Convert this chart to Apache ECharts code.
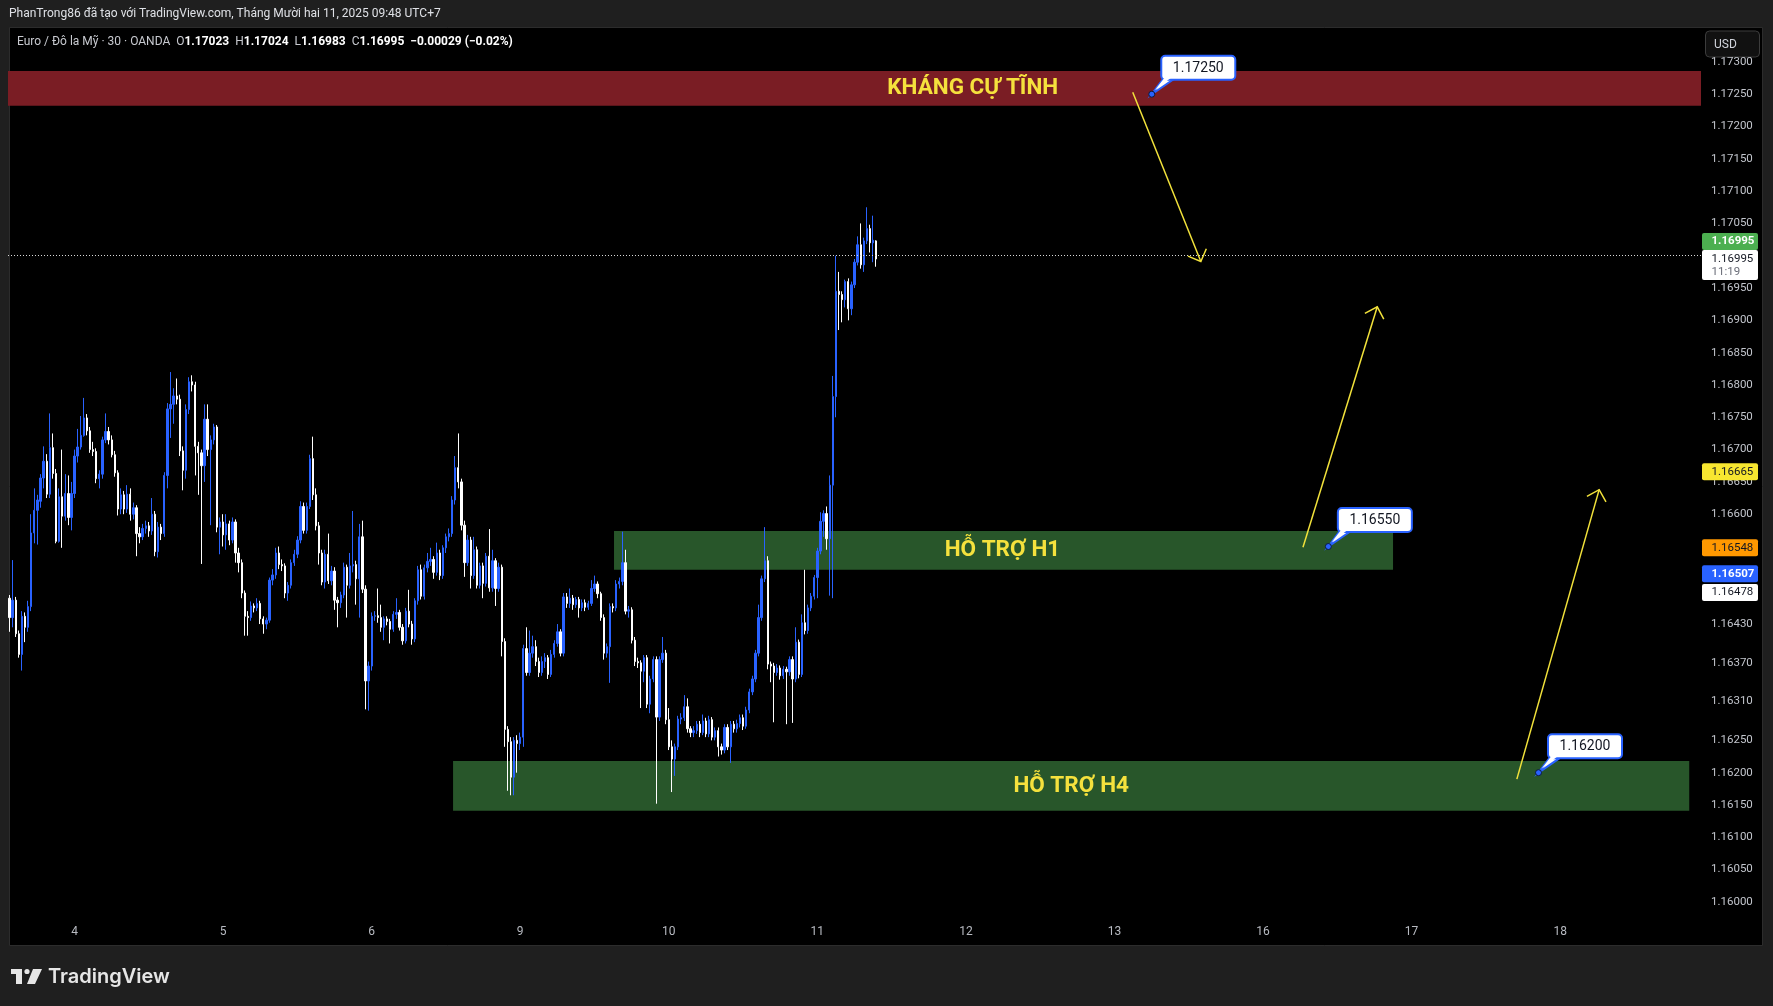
<!DOCTYPE html>
<html>
<head>
<meta charset="utf-8">
<title>Euro / Đô la Mỹ · 30 · OANDA</title>
<script src="https://cdn.jsdelivr.net/npm/echarts@6.0.0/dist/echarts.min.js"></script>
<style>
  html, body { margin: 0; padding: 0; background: #1f1f1f; }
  #chart-container { width: 1773px; height: 1006px; }
</style>
</head>
<body>
<div id="chart-container"></div>
<script>
// candle values are in 0.00001 above BASE
const BASE = 1.16;
const PT = 0.00001;

// [open, close, low, high] - one 30 min bar each, first bar = day 3, 13:30
const candles = [
  [470,440,418,475],[440,467,425,529],[467,415,410,472],[415,383,378,420],[383,442,358,450],
  [442,425,402,448],[425,457,418,466],[457,571,450,600],[571,606,555,640],[606,622,553,630],
  [620,656,610,662],[656,682,640,705],[682,631,625,693],[631,703,625,756],[703,663,655,725],
  [663,558,555,670],[558,627,556,640],[627,597,548,700],[597,632,590,662],[632,595,583,660],
  [595,632,575,650],[632,690,625,700],[690,704,680,732],[704,722,700,752],[722,749,720,780],
  [749,729,722,755],[729,700,695,735],[700,697,690,712],[697,655,648,702],[655,662,640,668],
  [662,715,655,720],[715,728,710,756],[728,715,708,735],[715,692,688,722],[692,664,658,698],
  [664,608,598,668],[608,630,600,640],[630,608,600,636],[608,631,602,645],[631,600,590,640],
  [600,610,592,618],[610,570,535,614],[570,565,555,580],[565,578,560,585],[578,582,570,590],
  [582,574,565,588],[574,600,568,625],[600,542,535,605],[542,580,533,588],[580,570,560,585],
  [570,660,565,665],[660,763,640,772],[763,770,718,820],[770,783,740,795],[783,778,770,810],
  [778,698,690,785],[698,668,637,705],[668,762,655,770],[762,805,755,812],[805,800,790,815],
  [800,705,660,805],[705,695,630,712],[695,675,523,700],[675,747,650,770],[747,700,690,770],
  [700,715,583,722],[715,735,708,740],[735,580,572,738],[580,588,538,595],[588,568,550,600],
  [568,585,545,600],[585,560,552,590],[560,588,555,595],[588,540,525,592],[540,525,510,548],
  [525,478,470,530],[478,442,412,482],[442,440,412,450],[440,458,435,465],[458,455,448,462],
  [455,462,450,470],[462,438,430,466],[438,430,415,442],[430,436,422,440],[436,498,432,502],
  [498,506,490,515],[506,540,500,548],[540,522,515,550],[522,520,512,530],[520,478,470,524],
  [478,490,466,495],[490,525,485,530],[525,538,520,545],[538,560,532,566],[560,612,555,620],
  [612,575,570,618],[575,612,570,618],[612,686,608,692],[686,630,622,720],[630,582,575,640],
  [582,540,522,588],[540,495,490,545],[495,538,485,545],[538,497,492,570],[497,512,490,520],
  [512,467,452,518],[467,463,425,472],[463,475,455,480],[475,518,470,525],[518,490,440,522],
  [490,520,485,540],[520,522,510,605],[522,500,460,528],[500,565,440,585],[565,484,478,590],
  [484,342,298,490],[342,365,296,372],[365,442,358,448],[442,443,435,450],[443,440,432,485],
  [440,425,418,460],[425,438,405,442],[438,434,428,442],[434,422,400,438],[422,445,418,450],
  [445,448,438,470],[448,425,420,452],[425,404,398,430],[404,450,400,455],[450,430,425,483],
  [430,407,398,435],[407,466,402,470],[466,514,460,520],[514,473,468,522],[473,517,468,522],
  [517,527,510,540],[527,530,520,548],[530,510,500,535],[510,540,505,556],[540,505,498,545],
  [505,548,500,552],[548,565,540,570],[565,570,558,578],[570,622,565,628],[622,672,615,690],
  [672,650,640,725],[650,583,575,655],[583,525,503,590],[525,560,520,568],[560,505,485,565],
  [505,545,500,565],[545,490,485,550],[490,520,485,525],[520,493,470,525],[493,535,488,540],
  [535,486,480,577],[486,528,480,545],[528,485,458,532],[485,518,480,525],[518,403,380,522],
  [403,267,240,408],[267,248,172,272],[248,193,165,255],[193,250,165,255],[250,245,200,258],
  [245,255,235,262],[255,392,240,398],[392,355,350,425],[355,385,350,420],[385,395,378,412],
  [395,372,365,405],[372,355,348,378],[355,372,350,380],[372,378,362,385],[378,352,345,382],
  [352,383,348,390],[383,400,378,405],[400,418,395,430],[418,385,380,422],[385,472,380,478],
  [472,462,455,478],[462,470,455,485],[470,460,452,475],[460,468,455,472],[468,455,440,472],
  [455,463,450,468],[463,456,450,468],[456,462,452,466],[462,485,458,498],[485,492,480,505],
  [492,477,470,496],[477,440,435,480],[440,385,375,445],[385,395,378,400],[395,457,339,462],
  [457,455,448,462],[455,492,450,498],[492,496,485,502],[496,525,490,573],[525,450,445,545],
  [450,452,440,458],[452,405,400,456],[405,372,365,410],[372,370,362,378],[370,357,300,374],
  [357,378,340,382],[378,306,300,382],[306,345,292,350],[345,375,340,380],[375,286,152,380],
  [286,375,280,380],[375,385,370,410],[385,282,275,390],[282,240,235,300],[240,221,170,250],
  [221,240,195,245],[240,283,235,288],[283,285,275,292],[285,302,280,320],[302,268,262,315],
  [268,262,255,272],[262,265,255,272],[265,275,260,280],[275,262,255,280],[262,280,258,290],
  [280,260,255,285],[260,282,255,288],[282,255,250,286],[255,265,250,270],[265,240,225,270],
  [240,235,228,245],[235,270,230,275],[270,240,235,275],[240,275,215,280],[275,268,262,280],
  [268,276,262,282],[276,285,270,290],[285,272,266,290],[272,297,268,302],[297,325,292,330],
  [325,345,320,350],[345,385,340,390],[385,440,380,460],[440,500,435,505],[500,528,495,580],
  [528,368,360,535],[368,365,340,372],[365,355,278,370],[355,362,350,368],[362,350,344,366],
  [350,360,345,365],[360,356,275,364],[356,375,350,380],[375,345,277,380],[345,402,340,425],
  [402,352,346,406],[352,432,348,445],[432,420,414,514],[420,455,415,460],[455,473,450,478],
  [473,502,468,506],[502,543,470,548],[543,589,538,603],[589,601,565,606],[601,562,545,612],
  [562,645,474,660],[645,782,470,814],[782,945,750,1000],[945,940,885,975],[940,932,897,945],
  [932,960,920,963],[960,918,900,965],[918,955,908,960],[955,990,950,995],[990,1017,985,1030],
  [1017,986,980,1050],[986,1023,975,1028],[1023,1042,1018,1075],[1042,1020,1005,1048],[1020,1024,990,1062],
  [1023,995,983,1024]
];

// time scale: 48 bars a day, weekends skipped
const leadDay = '3';
const leadFirstSlot = 27;
const dayLabels = ['4', '5', '6', '9', '10', '11', '12', '13', '16', '17', '18'];
const BARS_PER_DAY = 48;
const SLOTS = 547;

const priceTicks = [
  1.173, 1.1725, 1.172, 1.1715, 1.171, 1.1705, 1.17, 1.1695, 1.169, 1.1685, 1.168,
  1.1675, 1.167, 1.1665, 1.166, 1.165, 1.1643, 1.1637, 1.1631, 1.1625, 1.162,
  1.1615, 1.161, 1.1605, 1.16
];

// drawn zones (x in bar units)
const zoneNames = ['KHÁNG CỰ TĨNH', 'HỖ TRỢ H1', 'HỖ TRỢ H4'];
const zoneStart = [-0.5, 195.3, 143.3];
const zoneEnd = [546.5, 447.0, 542.7];
const zoneLow = [1.17232, 1.16514, 1.16141];
const zoneHigh = [1.17286, 1.16574, 1.16218];
const zoneTextAt = [311.2, 320.8, 343.0];

const calloutBar = [369.05, 426.1, 494.0];
const calloutPrice = [1.1725, 1.1655, 1.162];

const arrowStart = [[362.9, 1.17253], [417.9, 1.16549], [487.0, 1.16190]];
const arrowEnd = [[384.9, 1.16991], [441.9, 1.16921], [513.6, 1.16638]];

const tagPrices = [1.16995, 1.16995, 1.16665, 1.16548, 1.16507, 1.16478];
const countdown = '11:19';

const creditLine = 'PhanTrong86 đã tạo với TradingView.com, Tháng Mười hai 11, 2025 09:48 UTC+7';
const symbolName = 'Euro / Đô la Mỹ · 30 · OANDA';

// ---- styles
const UP = '#2962ff';
const DOWN = '#ffffff';
const ZONE_FILL = ['#7a1d24', '#28562a', '#28562a'];
const ZONE_TEXT = '#f5e13d';
const ARROW = '#f2e23b';
const TAG_FILL = ['#4caf50', '#ffffff', '#f7e630', '#ff9800', '#2962ff', '#ffffff'];
const TAG_TEXT = ['#ffffff', '#131722', '#131722', '#131722', '#ffffff', '#131722'];
const TAG_BOLD = [true, false, false, false, true, false];
const TAG_SHIFT = [-17.5, 0, -0.5, 0, -0.5, -0.5];
const FONT = 'Roboto, "Noto Sans", sans-serif';

const X_MIN = -0.5;
const X_MAX = SLOTS - 0.5;

// category names like "4 09:30"
const categories = [];
function slotName(day, s) {
  const h = String(Math.floor(s / 2)).padStart(2, '0');
  return day + ' ' + h + ':' + (s % 2 ? '30' : '00');
}
for (let s = leadFirstSlot; s < BARS_PER_DAY; s++) categories.push(slotName(leadDay, s));
dayLabels.forEach((d) => {
  for (let s = 0; s < BARS_PER_DAY && categories.length < SLOTS; s++) categories.push(slotName(d, s));
});

const toPrice = (v) => +(BASE + v * PT).toFixed(5);
const ohlc = candles.map((c) => [toPrice(c[0]), toPrice(c[1]), toPrice(c[2]), toPrice(c[3])]);

const last = candles[candles.length - 1];
const prev = candles[candles.length - 2];
const lastClose = toPrice(last[1]);
const chg = last[1] - prev[1];
const sign = chg < 0 ? '−' : '+';
const chgText = sign + (Math.abs(chg) * PT).toFixed(5) + ' (' + sign +
  (Math.abs(chg * PT) / toPrice(prev[1]) * 100).toFixed(2) + '%)';
const legendText = '{n|' + symbolName + '}  {n|O}{b|' + toPrice(last[0]).toFixed(5) +
  '}  {n|H}{b|' + toPrice(last[3]).toFixed(5) + '}  {n|L}{b|' + toPrice(last[2]).toFixed(5) +
  '}  {n|C}{b|' + lastClose.toFixed(5) + '}  {b|' + chgText + '}';

const chart = echarts.init(document.getElementById('chart-container'), null, { renderer: 'canvas' });

const option = {
  animation: false,
  backgroundColor: '#1f1f1f',
  grid: { left: 8, right: 72, top: 27, bottom: 86 },
  xAxis: [
    {
      type: 'category',
      data: categories,
      boundaryGap: true,
      axisLine: { show: false },
      axisTick: { show: false },
      splitLine: { show: false },
      axisLabel: {
        interval: (i, v) => v.endsWith(' 00:00'),
        formatter: (v) => v.split(' ')[0],
        color: '#b8bbc2',
        fontSize: 12,
        fontFamily: FONT,
        margin: 6
      }
    },
    { type: 'value', min: X_MIN, max: X_MAX, show: false }
  ],
  yAxis: {
    type: 'value',
    position: 'right',
    min: 1.15972,
    max: 1.17354,
    axisLine: { show: false },
    axisTick: { show: false },
    splitLine: { show: false },
    axisLabel: {
      customValues: priceTicks,
      formatter: (v) => v.toFixed(5),
      color: '#c2c5cc',
      fontSize: 11.5,
      fontFamily: FONT,
      margin: 10
    }
  },
  series: [
    {
      name: 'zones',
      type: 'custom',
      xAxisIndex: 1,
      z: 1,
      silent: true,
      data: zoneNames.map((n, i) => [zoneStart[i], zoneEnd[i], zoneLow[i], zoneHigh[i], zoneTextAt[i]]),
      encode: { x: [0, 1, 4], y: [2, 3] },
      renderItem(params, api) {
        const i = params.dataIndex;
        const a = api.coord([api.value(0), api.value(3)]);
        const b = api.coord([api.value(1), api.value(2)]);
        const t = api.coord([api.value(4), (api.value(2) + api.value(3)) / 2]);
        return {
          type: 'group',
          children: [
            {
              type: 'rect',
              shape: { x: a[0], y: a[1], width: b[0] - a[0], height: b[1] - a[1] },
              style: { fill: ZONE_FILL[i] }
            },
            {
              type: 'text',
              x: t[0],
              y: t[1],
              style: {
                text: zoneNames[i],
                fill: ZONE_TEXT,
                fontSize: 22.5,
                fontWeight: 'bold',
                fontFamily: FONT,
                align: 'center',
                verticalAlign: 'middle'
              }
            }
          ]
        };
      }
    },
    {
      name: 'EURUSD',
      type: 'candlestick',
      xAxisIndex: 0,
      z: 3,
      barWidth: 1.8,
      data: ohlc,
      itemStyle: {
        color: UP,
        color0: DOWN,
        borderColor: UP,
        borderColor0: DOWN,
        borderColorDoji: DOWN,
        borderWidth: 1
      },
      markLine: {
        silent: true,
        symbol: ['none', 'none'],
        label: { show: false },
        lineStyle: { color: '#d8d8d8', type: [1, 2], width: 1 },
        data: [{ yAxis: lastClose }]
      }
    },
    {
      name: 'arrows',
      type: 'custom',
      xAxisIndex: 1,
      z: 4,
      silent: true,
      data: arrowStart.map((s, i) => [s[0], s[1], arrowEnd[i][0], arrowEnd[i][1]]),
      encode: { x: [0, 2], y: [1, 3] },
      renderItem(params, api) {
        const a = api.coord([api.value(0), api.value(1)]);
        const b = api.coord([api.value(2), api.value(3)]);
        const back = Math.atan2(a[1] - b[1], a[0] - b[0]);
        const len = 14;
        const w1 = [b[0] + len * Math.cos(back + Math.PI / 4), b[1] + len * Math.sin(back + Math.PI / 4)];
        const w2 = [b[0] + len * Math.cos(back - Math.PI / 4), b[1] + len * Math.sin(back - Math.PI / 4)];
        return {
          type: 'group',
          children: [
            { type: 'line', shape: { x1: a[0], y1: a[1], x2: b[0], y2: b[1] }, style: { stroke: ARROW, lineWidth: 1.5 } },
            { type: 'polyline', shape: { points: [w1, b, w2] }, style: { stroke: ARROW, lineWidth: 1.5, fill: null } }
          ]
        };
      }
    },
    {
      name: 'callouts',
      type: 'custom',
      xAxisIndex: 1,
      z: 5,
      silent: true,
      data: calloutBar.map((x, i) => [x, calloutPrice[i]]),
      encode: { x: 0, y: 1 },
      renderItem(params, api) {
        const p = api.coord([api.value(0), api.value(1)]);
        const bw = 74, bh = 24;
        const bx = p[0] + 9.5, by = p[1] - 38.5;
        const tail = [[p[0], p[1]], [bx + 2, by + bh - 1], [bx + 13, by + bh - 1]];
        const tailInner = [[p[0] + 3, p[1] - 4], [bx + 4, by + bh - 3], [bx + 11, by + bh - 3]];
        return {
          type: 'group',
          children: [
            { type: 'polygon', shape: { points: tail }, style: { fill: '#fff', stroke: UP, lineWidth: 2 } },
            { type: 'rect', shape: { x: bx, y: by, width: bw, height: bh, r: 4 }, style: { fill: '#fff', stroke: UP, lineWidth: 2 } },
            { type: 'polygon', shape: { points: tailInner }, style: { fill: '#fff' } },
            { type: 'circle', shape: { cx: p[0], cy: p[1], r: 3 }, style: { fill: UP, stroke: '#0b1a40', lineWidth: 1 } },
            {
              type: 'text',
              x: bx + bw / 2,
              y: by + bh / 2 + 0.5,
              style: {
                text: api.value(1).toFixed(5),
                fill: '#131722',
                fontSize: 14,
                fontFamily: FONT,
                align: 'center',
                verticalAlign: 'middle'
              }
            }
          ]
        };
      }
    },
    {
      name: 'tags',
      type: 'custom',
      xAxisIndex: 1,
      z: 6,
      clip: false,
      silent: true,
      data: tagPrices.map((p) => [X_MAX, p]),
      encode: { x: 0, y: 1 },
      renderItem(params, api) {
        const i = params.dataIndex;
        const p = api.coord([api.value(0), api.value(1)]);
        const x = p[0] + 1;
        const two = i === 1;
        const h = two ? 30 : 17;
        const y = two ? p[1] - 9 : p[1] + TAG_SHIFT[i] - 8.5;
        const children = [
          { type: 'rect', shape: { x: x, y: y, width: 56, height: h, r: 2 }, style: { fill: TAG_FILL[i] } },
          {
            type: 'text',
            x: x + 9.5,
            y: two ? y + 8.8 : y + h / 2,
            style: {
              text: api.value(1).toFixed(5),
              fill: TAG_TEXT[i],
              fontSize: 11.5,
              fontWeight: TAG_BOLD[i] ? 'bold' : 'normal',
              fontFamily: FONT,
              verticalAlign: 'middle'
            }
          }
        ];
        if (two) {
          children.push({
            type: 'text',
            x: x + 9.5,
            y: y + 22,
            style: { text: countdown, fill: '#6a6d78', fontSize: 11.5, fontFamily: FONT, verticalAlign: 'middle' }
          });
        }
        return { type: 'group', children };
      }
    }
  ],
  graphic: [
    {
      type: 'rect',
      z: -10,
      silent: true,
      shape: { x: 9.5, y: 27.5, width: 1753, height: 918 },
      style: { fill: '#000000', stroke: '#2c2c2c', lineWidth: 1 }
    },
    {
      type: 'text',
      x: 9,
      y: 14,
      style: { text: creditLine, fill: '#dfe1e6', fontSize: 12, fontFamily: FONT, verticalAlign: 'middle' }
    },
    {
      type: 'text',
      x: 17,
      y: 42,
      style: {
        text: legendText,
        fill: '#c8cad0',
        fontSize: 12,
        fontFamily: FONT,
        verticalAlign: 'middle',
        rich: {
          n: { fill: '#c8cad0', fontSize: 12, fontFamily: FONT },
          b: { fill: '#ffffff', fontSize: 12, fontFamily: FONT, fontWeight: 'bold' }
        }
      }
    },
    {
      type: 'group',
      z: 10,
      children: [
        { type: 'rect', shape: { x: 1705.5, y: 31, width: 54, height: 26, r: 4 }, style: { fill: '#111111', stroke: '#3c3c3c', lineWidth: 1 } },
        { type: 'text', x: 1714, y: 44.5, style: { text: 'USD', fill: '#d1d4dc', fontSize: 12, fontFamily: FONT, verticalAlign: 'middle' } }
      ]
    },
    {
      // TradingView logo
      type: 'group',
      children: [
        { type: 'rect', shape: { x: 11, y: 969, width: 11, height: 5 }, style: { fill: '#e6e6e6' } },
        { type: 'rect', shape: { x: 16, y: 969, width: 6, height: 15 }, style: { fill: '#e6e6e6' } },
        { type: 'circle', shape: { cx: 27, cy: 971.5, r: 2.6 }, style: { fill: '#e6e6e6' } },
        { type: 'polygon', shape: { points: [[33, 969], [42, 969], [35, 984], [27, 984]] }, style: { fill: '#e6e6e6' } },
        { type: 'text', x: 48, y: 977, style: { text: 'TradingView', fill: '#e6e6e6', fontSize: 20, fontWeight: 600, fontFamily: 'Inter, Roboto, sans-serif', verticalAlign: 'middle' } }
      ]
    }
  ]
};

chart.setOption(option);
</script>
</body>
</html>
